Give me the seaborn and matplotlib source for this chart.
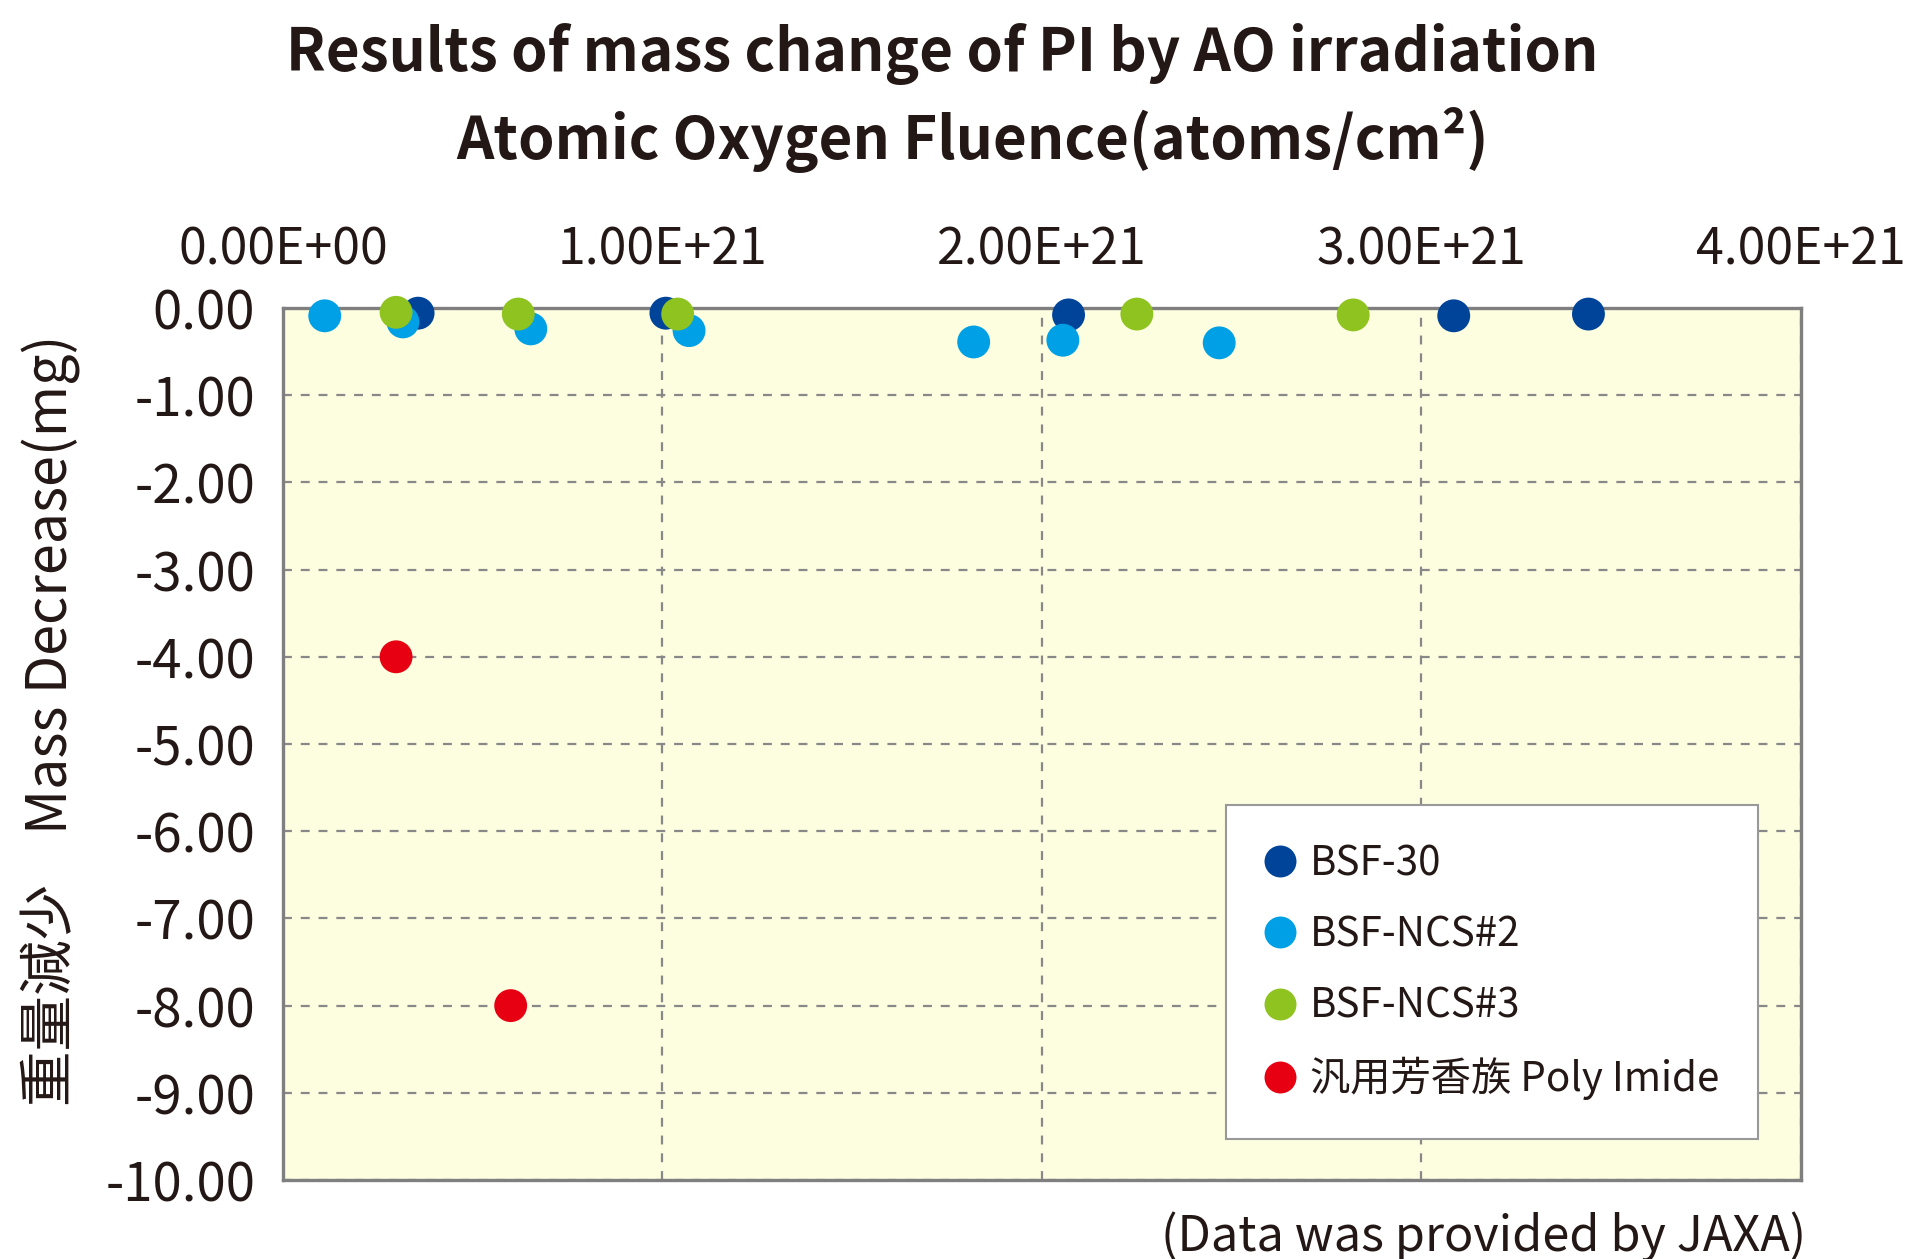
import pandas as pd
import matplotlib
matplotlib.use('Agg')
import matplotlib.pyplot as plt
import seaborn as sns
import numpy as np
from matplotlib.lines import Line2D
from matplotlib.ticker import FuncFormatter

# donnees (fluence en 1e21 atoms/cm2, masse en mg)
bsf30_x = [0.356, 1.009, 2.07, 3.085, 3.44]
bsf30_y = [-0.06, -0.06, -0.08, -0.09, -0.07]
ncs2_x = [0.11, 0.316, 0.653, 1.07, 1.82, 2.055, 2.467]
ncs2_y = [-0.09, -0.16, -0.24, -0.26, -0.39, -0.37, -0.40]
ncs3_x = [0.298, 0.62, 1.04, 2.25, 2.82]
ncs3_y = [-0.05, -0.07, -0.07, -0.07, -0.08]
pi_x = [0.298, 0.60]
pi_y = [-4.0, -8.0]

series = ['BSF-30', 'BSF-NCS#2', 'BSF-NCS#3', '汎用芳香族 Poly Imide']
couleurs = ['#00449A', '#00A0E6', '#8FC31F', '#E60012']
x_ticks = [0, 1e21, 2e21, 3e21, 4e21]
y_ticks = list(range(-10, 1))

#tableau pour seaborn
df = pd.concat([
    pd.DataFrame({'x': np.array(bsf30_x) * 1e21, 'y': bsf30_y, 'serie': series[0]}),
    pd.DataFrame({'x': np.array(ncs2_x) * 1e21, 'y': ncs2_y, 'serie': series[1]}),
    pd.DataFrame({'x': np.array(ncs3_x) * 1e21, 'y': ncs3_y, 'serie': series[2]}),
    pd.DataFrame({'x': np.array(pi_x) * 1e21, 'y': pi_y, 'serie': series[3]}),
])

sns.set_style('white')
plt.rcParams['font.family'] = ['Noto Sans CJK JP', 'DejaVu Sans']

fig = plt.figure(figsize=(19.07, 12.59), dpi=100)
ax = fig.add_axes([0.1484, 0.0627, 0.9444 - 0.1484, 0.7554 - 0.0627])
ax.set_facecolor('#FDFDE0')

sns.scatterplot(data=df, x='x', y='y', hue='serie', hue_order=series,
                palette=couleurs, s=560, linewidth=0, legend=False, ax=ax,
                clip_on=False, zorder=5)

ax.set_xlim(0, 4e21)
ax.set_ylim(-10, 0)
ax.set_xticks(x_ticks)
ax.set_yticks(y_ticks)
ax.xaxis.set_major_formatter(FuncFormatter(lambda v, p: '{:.2E}'.format(v)))
ax.yaxis.set_major_formatter(FuncFormatter(lambda v, p: '{:.2f}'.format(v)))
ax.xaxis.tick_top()
ax.tick_params(axis='x', labelsize=36, pad=23, length=0, colors='#231815')
ax.tick_params(axis='y', labelsize=38, pad=20, direction='in', length=8,
               width=2, color='#808080', labelcolor='#231815')
ax.set_xlabel('')
ax.set_ylabel('重量減少    Mass Decrease(mg)', fontsize=40, color='#231815')
ax.yaxis.set_label_coords(-0.133, 0.527)

ax.grid(True, color='#888888', linestyle=(0, (4, 4)), linewidth=1.6)
for sp in ax.spines.values():
    sp.set_visible(True)
    sp.set_color('#7f7f7f')
    sp.set_linewidth(2.4)

#legende
handles = [Line2D([], [], marker='o', linestyle='', markersize=23,
                  markerfacecolor=c, markeredgewidth=0) for c in couleurs]
leg = ax.legend(handles, series, loc='upper left', bbox_to_anchor=(0.621, 0.430),
                borderaxespad=0, fontsize=29, frameon=True, fancybox=False,
                edgecolor='#999999', framealpha=1, labelspacing=0.75,
                handletextpad=0.35, borderpad=0.95, handlelength=0.8)
leg.get_frame().set_linewidth(1.5)
for t in leg.get_texts():
    t.set_color('#231815')

fig.text(0.494, 0.957, 'Results of mass change of PI by AO irradiation',
         ha='center', va='center', fontsize=42, fontweight='bold', color='#231815')
fig.text(0.510, 0.889, 'Atomic Oxygen Fluence(atoms/cm²)',
         ha='center', va='center', fontsize=42, fontweight='bold', color='#231815')
fig.text(0.947, 0.018, '(Data was provided by JAXA)', ha='right', va='center',
         fontsize=35, color='#231815')

plt.savefig('out.png', dpi=100)
